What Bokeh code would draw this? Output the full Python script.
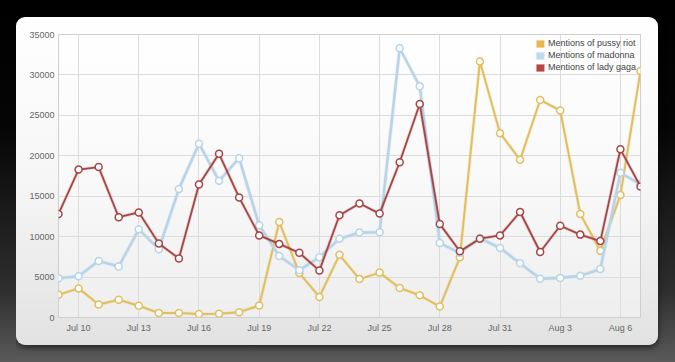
from bokeh.plotting import figure
from bokeh.models import (Range1d, FixedTicker, Legend, LegendItem, ColumnDataSource,
                          GlobalInlineStyleSheet)
from bokeh.embed import file_html
from bokeh.resources import INLINE

# ---- data (Jul 9 .. Aug 7, 2012) ----
dates = ["Jul 9", "Jul 10", "Jul 11", "Jul 12", "Jul 13", "Jul 14", "Jul 15", "Jul 16",
         "Jul 17", "Jul 18", "Jul 19", "Jul 20", "Jul 21", "Jul 22", "Jul 23", "Jul 24",
         "Jul 25", "Jul 26", "Jul 27", "Jul 28", "Jul 29", "Jul 30", "Jul 31", "Aug 1",
         "Aug 2", "Aug 3", "Aug 4", "Aug 5", "Aug 6", "Aug 7"]
pussy_riot = [2800, 3600, 1600, 2200, 1450, 550, 550, 420, 460, 660,
              1480, 11800, 5500, 2550, 7750, 4750, 5550, 3650, 2750, 1350,
              7450, 31650, 22800, 19500, 26900, 25600, 12800, 8250, 15150, 30500]
madonna = [4850, 5100, 7000, 6300, 10900, 8450, 15900, 21500, 16900, 19700,
           11400, 7600, 5850, 7450, 9750, 10500, 10550, 33300, 28600, 9200,
           8000, 9800, 8600, 6700, 4800, 4900, 5150, 6000, 17900, 16500]
lady_gaga = [12800, 18300, 18600, 12400, 13000, 9150, 7300, 16450, 20250, 14850,
             10150, 9100, 8000, 5800, 12650, 14100, 12850, 19200, 26400, 11550,
             8200, 9750, 10150, 13050, 8100, 11350, 10250, 9450, 20800, 16200]
series_names = ["Mentions of pussy riot", "Mentions of madonna", "Mentions of lady gaga"]
tick_positions = [1, 4, 7, 10, 13, 16, 19, 22, 25, 28]
y_ticks = [0, 5000, 10000, 15000, 20000, 25000, 30000, 35000]

line_colors = ["#e2bf5e", "#b7d4e8", "#a54545"]
swatch_colors = ["#e8b94a", "#bcdaf0", "#b94545"]
line_widths = [2.0, 2.6, 1.8]

x = list(range(len(dates)))

page_css = ("html{min-height:100%;background:linear-gradient(to bottom,#000 0%,#050505 35%,"
            "#2e2e2e 80%,#5a5a5a 100%) no-repeat;background-color:#222;}"
            "body{background:transparent;margin:17px 0 0 16px;}")

p = figure(width=642, height=328, output_backend="svg", toolbar_location=None,
           x_range=Range1d(0, len(dates) - 1), y_range=Range1d(0, 35000),
           min_border_left=42, min_border_right=18, min_border_top=17, min_border_bottom=28,
           border_fill_color=None, background_fill_color="#ffffff", background_fill_alpha=0.35,
           outline_line_color="#cfcfcf",
           styles={"border-radius": "9px",
                   "background": "linear-gradient(to bottom, #ffffff 0%, #f6f6f6 50%, #e2e2e2 100%)",
                   "box-shadow": "0 2px 6px rgba(0,0,0,0.6)"},
           stylesheets=[GlobalInlineStyleSheet(css=page_css)])

# axes
p.xaxis.ticker = FixedTicker(ticks=tick_positions)
p.xaxis.major_label_overrides = {t: dates[t] for t in tick_positions}
p.yaxis.ticker = FixedTicker(ticks=y_ticks)
for ax in (p.xaxis[0], p.yaxis[0]):
    ax.axis_line_color = None
    ax.major_tick_line_color = None
    ax.minor_tick_line_color = None
    ax.major_tick_out = 0
    ax.major_tick_in = 0
    ax.minor_tick_out = 0
    ax.minor_tick_in = 0
    ax.major_label_text_font = "Liberation Sans"
    ax.major_label_text_font_size = "9px"
    ax.major_label_text_color = "#666666"
p.xaxis.major_label_standoff = 5
p.yaxis.major_label_standoff = 4

p.xgrid.grid_line_color = "#dcdcdc"
p.ygrid.grid_line_color = "#dcdcdc"

legend_items = []
for vals, lc, sc, lw, name in zip([pussy_riot, madonna, lady_gaga], line_colors, swatch_colors,
                                  line_widths, series_names):
    src = ColumnDataSource(dict(x=x, y=vals))
    p.line("x", "y", source=src, line_color=lc, line_width=lw + 1.6, line_alpha=0.18)
    p.line("x", "y", source=src, line_color=lc, line_width=lw)
    p.scatter("x", "y", source=src, size=7, fill_color="white", line_color=lc, line_width=1.5)
    # zero-size proxy used only for the square legend swatch
    sw = p.quad(left=[0], right=[0], top=[0], bottom=[0], fill_color=sc, line_color=None)
    legend_items.append(LegendItem(label=name, renderers=[sw]))

legend = Legend(items=legend_items, location="top_right",
                background_fill_alpha=0.0, border_line_color=None,
                glyph_width=10, glyph_height=9, label_height=9,
                label_text_font="Liberation Sans", label_text_font_size="9px",
                label_text_color="#444444", spacing=2, padding=2, margin=4,
                label_standoff=3)
p.add_layout(legend)

open("out.html", "w").write(file_html(p, INLINE))
